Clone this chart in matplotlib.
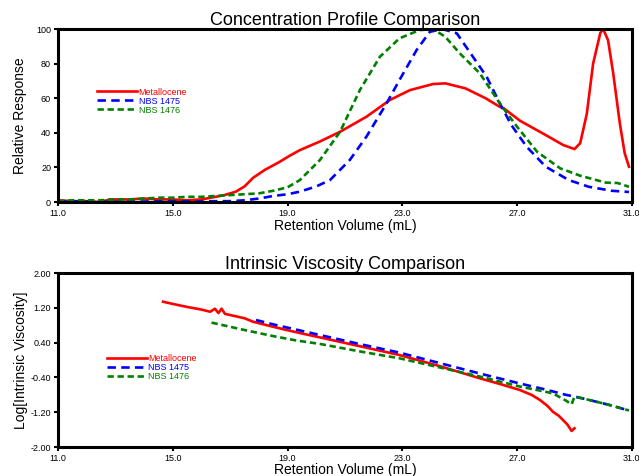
import matplotlib
matplotlib.use('Agg')
import matplotlib.pyplot as plt

plt.rcParams['font.family'] = ['Liberation Sans', 'DejaVu Sans']

# Perfil de concentracao (volume de retencao em mL, resposta relativa)
conc_met_x = [11.0, 11.5, 12.0, 12.5, 12.8, 13.5, 14.0, 14.5, 15.0, 15.5, 16.0, 16.5, 16.8, 17.2,
              17.5, 17.8, 18.2, 18.7, 19.1, 19.43, 20.13, 20.83, 21.75, 22.57, 23.27, 24.07, 24.5,
              25.2, 25.9, 26.4, 26.55, 27.1, 28.0, 28.6, 29.0, 29.2, 29.43, 29.65, 29.9, 30.0,
              30.17, 30.35, 30.58, 30.75, 30.9]
conc_met_y = [1.0, 0.5, 0.5, 0.0, 1.5, 1.5, 2.0, 1.5, 1.5, 1.0, 1.5, 3.0, 4.0, 6.0,
              9.0, 14.0, 18.5, 23.0, 27.0, 30.0, 35.0, 40.6, 49.3, 59.0, 64.7, 68.2, 68.6,
              65.7, 60.0, 55.0, 54.0, 47.0, 38.7, 33.0, 30.6, 34.0, 51.0, 80.0, 97.7, 100.0,
              93.6, 74.5, 45.6, 28.3, 20.4]

conc_1475_x = [11.0, 12.0, 13.0, 14.0, 15.0, 16.0, 16.5, 17.0, 17.5, 18.0, 18.5, 19.0, 19.43,
               20.0, 20.48, 21.17, 21.75, 22.45, 22.9, 23.5, 23.96, 24.4, 24.9, 25.46, 25.94,
               26.4, 26.8, 27.33, 28.0, 28.8, 29.5, 30.3, 30.9]
conc_1475_y = [0.5, 0.3, 0.2, 0.3, 0.5, 0.3, 0.5, 0.5, 1.0, 2.0, 3.5, 4.5, 6.0,
               9.0, 12.7, 24.3, 37.8, 57.0, 70.5, 87.9, 98.4, 100.0, 97.5, 84.0, 72.4,
               57.0, 44.5, 32.0, 20.4, 12.7, 8.8, 6.5, 5.8]

conc_1476_x = [11.0, 11.5, 12.0, 12.5, 13.0, 13.5, 14.0, 14.5, 15.0, 15.5, 16.0, 16.5, 17.0,
               17.5, 18.0, 18.5, 19.0, 19.43, 20.13, 20.83, 21.52, 22.22, 22.9, 23.6, 24.07,
               24.5, 25.0, 25.7, 26.44, 27.0, 27.7, 28.5, 29.2, 30.1, 30.5, 30.9]
conc_1476_y = [0.5, 1.0, 1.0, 1.0, 1.5, 1.5, 2.0, 2.5, 2.5, 3.0, 3.0, 3.5, 4.0,
               4.5, 5.0, 6.5, 8.5, 12.7, 24.3, 40.6, 64.7, 84.0, 94.6, 99.4, 100.0,
               95.5, 86.0, 74.4, 56.0, 43.5, 29.0, 19.5, 15.2, 11.2, 11.0, 8.8]

# Viscosidade intrinseca (log)
visc_met_x = [14.66, 15.0, 15.5, 16.0, 16.3, 16.47, 16.59, 16.7, 16.82, 17.1, 17.5, 17.8, 18.4,
              18.97, 19.5, 20.13, 21.5, 22.9, 24.3, 25.7, 26.5, 27.1, 27.5, 27.8, 28.05, 28.25,
              28.45, 28.6, 28.75, 28.9, 29.0]
visc_met_y = [1.34, 1.29, 1.22, 1.16, 1.11, 1.18, 1.08, 1.18, 1.06, 1.02, 0.96, 0.88, 0.78,
              0.69, 0.61, 0.52, 0.32, 0.115, -0.14, -0.42, -0.57, -0.69, -0.80, -0.92, -1.05, -1.19,
              -1.28, -1.38, -1.48, -1.63, -1.57]

visc_1475_x = [17.9, 18.5, 19.3, 20.13, 21.5, 22.9, 24.3, 25.7, 27.1, 28.0, 28.7, 29.0, 29.4,
               30.2, 30.9]
visc_1475_y = [0.92, 0.82, 0.70, 0.575, 0.37, 0.17, -0.07, -0.31, -0.54, -0.68, -0.80, -0.84, -0.90,
               -1.03, -1.16]

visc_1476_x = [16.35, 17.5, 18.5, 19.3, 20.13, 21.5, 22.9, 24.3, 25.7, 27.1, 28.0, 28.26, 28.72,
               28.9, 29.0, 29.4, 30.2, 30.9]
visc_1476_y = [0.86, 0.69, 0.55, 0.45, 0.37, 0.20, 0.04, -0.17, -0.38, -0.61, -0.73, -0.77, -0.94,
               -1.02, -0.84, -0.90, -1.03, -1.16]

nomes = ['Metallocene', 'NBS 1475', 'NBS 1476']
cores = ['#ff0000', '#0000ff', '#008000']
x_ticks = [11.0, 15.0, 19.0, 23.0, 27.0, 31.0]
conc_ticks = [0, 20, 40, 60, 80, 100]
visc_ticks = [2.0, 1.2, 0.4, -0.4, -1.2, -2.0]


def estilo_eixo(ax):
    for s in ax.spines.values():
        s.set_linewidth(2.2)
    ax.tick_params(axis='both', direction='out', length=3, width=1.5, labelsize=6.5, pad=2,
                   top=False, right=False)
    ax.set_xlim(11, 31)
    ax.set_xticks(x_ticks)
    ax.set_xticklabels([f'{v:.1f}' for v in x_ticks])
    ax.set_xlabel('Retention Volume (mL)', fontsize=10)


def desenha(ax, series, legenda_pos):
    linhas = []
    estilos = [dict(linestyle='-'), dict(dashes=(3.2, 2.0)), dict(dashes=(2.4, 1.4))]
    for (x, y), nome, cor, est in zip(series, nomes, cores, estilos):
        l, = ax.plot(x, y, color=cor, lw=1.9, label=nome, **est)
        linhas.append(l)
    ax.legend(handles=linhas, loc='upper left', bbox_to_anchor=legenda_pos, frameon=False,
              fontsize=6.5, handlelength=4.4, handletextpad=0.2, labelspacing=0.0,
              borderpad=0, borderaxespad=0, labelcolor='linecolor')


fig = plt.figure(figsize=(6.39, 4.76), dpi=100)

ax1 = fig.add_axes([0.0908, 0.5756, 0.898, 0.3634])
desenha(ax1, [(conc_met_x, conc_met_y), (conc_1475_x, conc_1475_y), (conc_1476_x, conc_1476_y)],
        (0.068, 0.662))
estilo_eixo(ax1)
ax1.set_ylim(0, 100)
ax1.set_yticks(conc_ticks)
ax1.set_ylabel('Relative Response', fontsize=10)
ax1.yaxis.set_label_coords(-0.054, 0.5)
ax1.xaxis.set_label_coords(0.5, -0.10)
ax1.set_title('Concentration Profile Comparison', fontsize=13, pad=3)

ax2 = fig.add_axes([0.0908, 0.0609, 0.898, 0.3655])
desenha(ax2, [(visc_met_x, visc_met_y), (visc_1475_x, visc_1475_y), (visc_1476_x, visc_1476_y)],
        (0.085, 0.535))
estilo_eixo(ax2)
ax2.set_ylim(-2.0, 2.0)
ax2.set_yticks(visc_ticks)
ax2.set_yticklabels([f'{v:.2f}' for v in visc_ticks])
ax2.set_ylabel('Log[Intrinsic Viscosity]', fontsize=10)
ax2.yaxis.set_label_coords(-0.052, 0.5)
ax2.xaxis.set_label_coords(0.5, -0.09)
ax2.set_title('Intrinsic Viscosity Comparison', fontsize=13, pad=3)

fig.savefig('out.png', dpi=100)
plt.close()
